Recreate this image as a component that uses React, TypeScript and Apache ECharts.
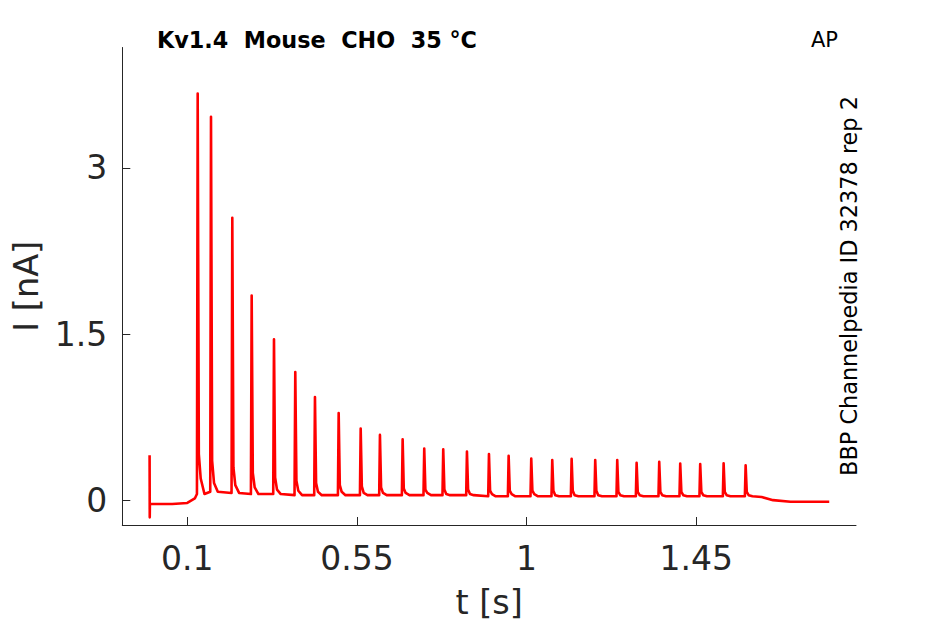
import { useEffect, useRef } from 'react';
import * as echarts from 'echarts';
import type { EChartsOption } from 'echarts';

// spike train (t in s, I in nA)
const spikeTimes = [
  0.1276, 0.1629, 0.2194, 0.2708, 0.33, 0.3865, 0.4387, 0.5016, 0.56, 0.6111,
  0.6713, 0.7286, 0.779, 0.8419, 0.9003, 0.9525, 1.0125, 1.0682, 1.1196, 1.1822,
  1.2406, 1.292, 1.352, 1.4077, 1.4607, 1.5228, 1.5812,
];
const spikePeaks = [
  3.67, 3.46, 2.55, 1.85, 1.455, 1.16, 0.934, 0.79, 0.65, 0.593,
  0.554, 0.47, 0.464, 0.443, 0.42, 0.404, 0.38, 0.366, 0.377, 0.366,
  0.366, 0.341, 0.35, 0.335, 0.33, 0.338, 0.32,
];
// current ~3 ms and ~8 ms after each peak
const spikeTailA = [
  0.42, 0.36, 0.3, 0.25, 0.21, 0.18, 0.16, 0.14, 0.13, 0.12,
  0.11, 0.1, 0.1, 0.1, 0.09, 0.09, 0.09, 0.09, 0.09, 0.09,
  0.08, 0.08, 0.08, 0.08, 0.08, 0.08, 0.08,
];
const spikeTailB = [
  0.2, 0.16, 0.14, 0.12, 0.1, 0.09, 0.08, 0.08, 0.07, 0.07,
  0.07, 0.07, 0.06, 0.06, 0.06, 0.06, 0.06, 0.05, 0.05, 0.05,
  0.05, 0.05, 0.05, 0.05, 0.05, 0.05, 0.05,
];
const spikeBase = [
  0.06, 0.08, 0.07, 0.06, 0.06, 0.05, 0.05, 0.05, 0.05, 0.05,
  0.05, 0.05, 0.05, 0.05, 0.04, 0.04, 0.04, 0.04, 0.04, 0.04,
  0.04, 0.04, 0.04, 0.04, 0.04, 0.04, 0.04,
];

// stimulus artefact and holding level before the train
const preTimes = [0, 0.0004, 0.0008, 0.06, 0.1, 0.12];
const preValues = [0.41, -0.15, -0.03, -0.03, -0.02, 0.02];

// after the train
const postTimes = [1.6, 1.6236, 1.654, 1.7, 1.803];
const postValues = [0.036, 0.034, 0.005, -0.01, -0.01];

const xTicks = [0.1, 0.55, 1, 1.45];
const yTicks = [0, 1.5, 3];

const INK = '#262626';
const FONT = 'DejaVu Sans';

function buildTrace(): [number, number][] {
  const pts: [number, number][] = [];
  preTimes.forEach((t, i) => pts.push([t, preValues[i]]));
  spikeTimes.forEach((t, i) => {
    pts.push([t - 0.002, spikeBase[i]]);
    pts.push([t, spikePeaks[i]]);
    pts.push([t + 0.003, spikeTailA[i]]);
    pts.push([t + 0.008, spikeTailB[i]]);
    pts.push([t + 0.018, spikeBase[i]]);
  });
  postTimes.forEach((t, i) => pts.push([t, postValues[i]]));
  return pts;
}

export default function App() {
  const chartRef = useRef<HTMLDivElement>(null);

  useEffect(() => {
    if (!chartRef.current) return;
    const chart = echarts.init(chartRef.current, undefined, { renderer: 'svg' });

    const option: EChartsOption = {
      animation: false,
      backgroundColor: '#ffffff',
      grid: { left: 122.3, right: 89, top: 47.5, bottom: 97.3, containLabel: false },
      xAxis: {
        type: 'value',
        min: -0.0724,
        max: 1.874,
        name: 't [s]',
        nameLocation: 'middle',
        nameGap: 60,
        nameTextStyle: { color: INK, fontSize: 33.5, fontFamily: FONT },
        axisLine: { show: true, onZero: false, lineStyle: { color: INK, width: 1 } },
        axisTick: { show: true, inside: true, length: 8, lineStyle: { color: INK }, customValues: xTicks },
        axisLabel: {
          color: INK,
          fontSize: 33,
          fontFamily: FONT,
          margin: 17,
          customValues: xTicks,
          formatter: (v: number) => String(v),
        },
        splitLine: { show: false },
      },
      yAxis: {
        type: 'value',
        min: -0.219,
        max: 4.085,
        name: 'I [nA]',
        nameLocation: 'middle',
        nameGap: 75,
        nameTextStyle: { color: INK, fontSize: 33.5, fontFamily: FONT },
        axisLine: { show: true, onZero: false, lineStyle: { color: INK, width: 1 } },
        axisTick: { show: true, inside: true, length: 8, lineStyle: { color: INK }, customValues: yTicks },
        axisLabel: {
          color: INK,
          fontSize: 33,
          fontFamily: FONT,
          margin: 15,
          customValues: yTicks,
          formatter: (v: number) => String(v),
        },
        splitLine: { show: false },
      },
      graphic: [
        {
          type: 'text',
          x: 157,
          y: 39.5,
          style: {
            text: 'Kv1.4  Mouse  CHO  35 °C',
            fill: '#000000',
            font: `bold 22.3px "${FONT}"`,
            verticalAlign: 'middle',
            align: 'left',
          },
        },
        {
          type: 'text',
          x: 811,
          y: 39.7,
          style: {
            text: 'AP',
            fill: '#000000',
            font: `21px "${FONT}"`,
            verticalAlign: 'middle',
            align: 'left',
          },
        },
        {
          type: 'text',
          x: 849,
          y: 286,
          rotation: Math.PI / 2,
          style: {
            text: 'BBP Channelpedia ID 32378 rep 2',
            fill: '#000000',
            font: `22.4px "${FONT}"`,
            verticalAlign: 'middle',
            align: 'center',
          },
        },
      ],
      series: [
        {
          type: 'line',
          data: buildTrace(),
          showSymbol: false,
          lineStyle: { color: '#ff0000', width: 2.6, join: 'round' },
        },
      ],
    };

    chart.setOption(option);
    return () => chart.dispose();
  }, []);

  return (
    <div
      ref={chartRef}
      style={{ position: 'fixed', left: 0, top: 0, width: 945, height: 624 }}
    />
  );
}
